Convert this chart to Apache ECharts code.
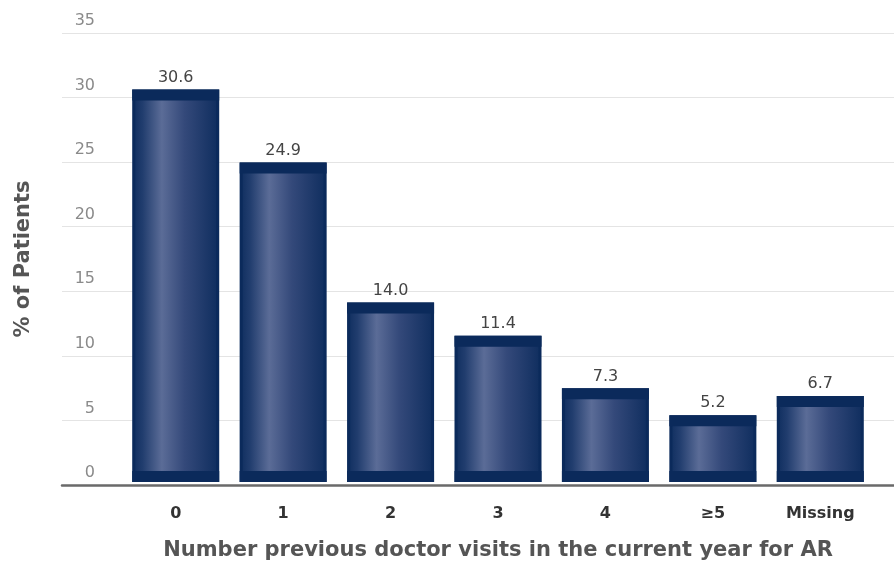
<!DOCTYPE html>
<html>
<head>
<meta charset="utf-8">
<script src="https://cdn.jsdelivr.net/npm/echarts@6/dist/echarts.min.js"></script>
<style>
  html, body { margin: 0; padding: 0; background: #fff; }
  #chart { width: 894px; height: 566px; }
</style>
</head>
<body>
<div id="chart"></div>
<script>
const categories = ['0', '1', '2', '3', '4', '≥5', 'Missing']
const patients = [30.6, 24.9, 14.0, 11.4, 7.3, 5.2, 6.7]
const yMin = 0
const yMax = 35
const yStep = 5

const navy = '#0b2a5b'
const barW = 87
const capH = 11

const chart = echarts.init(document.getElementById('chart'))

// horizontal shading for the bar body
const bodyFill = new echarts.graphic.LinearGradient(0, 0, 1, 0, [
  { offset: 0, color: '#0e2d5e' },
  { offset: 0.12, color: '#213d6e' },
  { offset: 0.34, color: '#5b6c97' },
  { offset: 0.6, color: '#34497a' },
  { offset: 1, color: '#0e2d5e' }
])

const option = {
  animation: false,
  grid: [
    { left: 62, right: 0, top: 33, bottom: 81 },
    { left: 122, right: 20, top: 33, bottom: 81 }
  ],
  xAxis: [
    {
      gridIndex: 0,
      type: 'category',
      data: categories,
      axisLine: { lineStyle: { color: '#6a6a6a', width: 2.5 } },
      axisTick: { show: false },
      axisLabel: { show: false }
    },
    {
      gridIndex: 1,
      type: 'category',
      data: categories,
      axisLine: { show: false },
      axisTick: { show: false },
      axisLabel: {
        margin: 24,
        color: '#333',
        fontSize: 16,
        fontWeight: 'bold',
        fontFamily: 'DejaVu Sans'
      },
      name: 'Number previous doctor visits in the current year for AR',
      nameLocation: 'middle',
      nameGap: 58,
      nameTextStyle: {
        color: '#555',
        fontSize: 21,
        fontWeight: 'bold',
        fontFamily: 'DejaVu Sans'
      }
    }
  ],
  yAxis: [
    {
      gridIndex: 0,
      type: 'value',
      min: yMin,
      max: yMax,
      interval: yStep,
      axisLine: { show: false },
      axisTick: { show: false },
      splitLine: { lineStyle: { color: '#e4e4e4', width: 1 } },
      axisLabel: {
        margin: -33,
        align: 'right',
        verticalAlign: 'bottom',
        padding: [0, 0, 4, 0],
        color: '#8a8a8a',
        fontSize: 16,
        fontFamily: 'DejaVu Sans'
      },
      name: '% of Patients',
      nameLocation: 'middle',
      nameGap: 28,
      nameTextStyle: {
        color: '#555',
        fontSize: 21,
        fontWeight: 'bold',
        fontFamily: 'DejaVu Sans'
      }
    },
    {
      gridIndex: 1,
      type: 'value',
      min: yMin,
      max: yMax,
      interval: yStep,
      show: false,
      splitLine: { show: false }
    }
  ],
  series: [
    {
      type: 'bar',
      xAxisIndex: 1,
      yAxisIndex: 1,
      data: patients,
      barWidth: barW,
      itemStyle: {
        color: bodyFill,
        borderColor: navy,
        borderWidth: 3
      },
      label: {
        show: true,
        position: 'top',
        distance: 4,
        color: '#444',
        fontSize: 16,
        fontFamily: 'DejaVu Sans',
        formatter: p => p.value.toFixed(1)
      },
      z: 2
    },
    {
      // darker top and bottom bands of each bar
      type: 'custom',
      xAxisIndex: 1,
      yAxisIndex: 1,
      data: patients.map((v, i) => [i, v]),
      z: 3,
      renderItem: (params, api) => {
        const top = api.coord([api.value(0), api.value(1)])
        const base = api.coord([api.value(0), 0])
        const x = top[0] - barW / 2
        return {
          type: 'group',
          children: [
            { type: 'rect', shape: { x, y: top[1], width: barW, height: capH }, style: { fill: navy } },
            { type: 'rect', shape: { x, y: base[1] - capH, width: barW, height: capH }, style: { fill: navy } }
          ]
        }
      }
    }
  ]
}

chart.setOption(option)
</script>
</body>
</html>
